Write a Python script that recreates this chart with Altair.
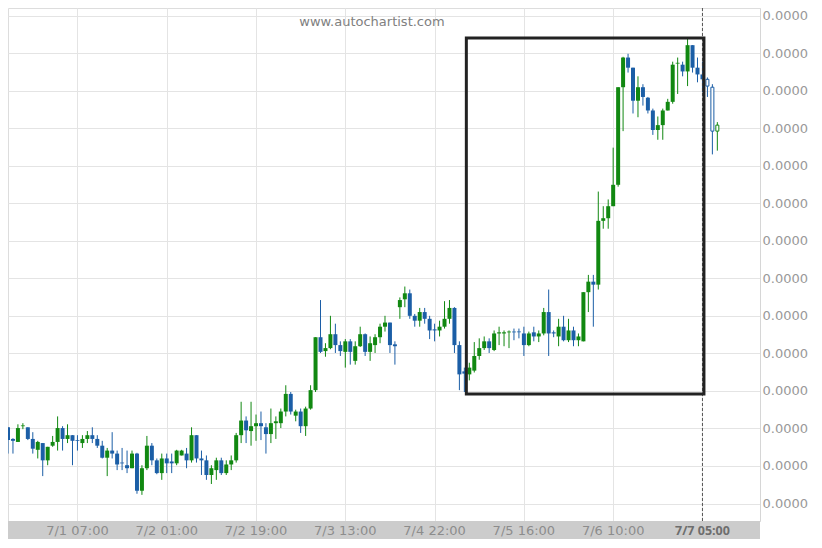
import altair as alt
import pandas as pd

# price unit per grid step (labels all round to 0.0000)
SCALE = 1e-6

opens = [3.03, 2.72, 2.64, 3.06, 3.03, 2.72, 2.43, 2.61, 2.15, 2.54,
         2.64, 3.01, 2.72, 2.82, 2.69, 2.61, 2.72, 2.82, 2.72, 2.54,
         2.22, 2.41, 2.33, 2.09, 2.02, 1.94, 2.33, 1.34, 1.94, 2.54,
         2.15, 1.81, 2.20, 2.12, 2.07, 2.28, 2.33, 2.15, 2.82, 2.20,
         2.15, 1.76, 1.89, 2.15, 1.81, 2.04, 2.15, 2.82, 3.21, 2.93,
         3.06, 3.14, 3.03, 2.85, 3.14, 3.14, 3.45, 3.92, 3.34, 3.45,
         3.06, 3.53, 4.02, 5.43, 5.06, 5.14, 5.51, 5.22, 5.04, 5.32,
         4.80, 5.19, 5.51, 5.04, 5.22, 5.43, 5.71, 5.82, 5.24, 6.23,
         6.44, 6.60, 6.00, 5.87, 6.10, 5.92, 5.64, 5.61, 5.71, 5.92,
         6.21, 5.22, 4.52, 4.44, 4.54, 4.93, 5.14, 5.32, 5.09, 5.53,
         5.53, 5.56, 5.58, 5.58, 5.53, 5.22, 5.56, 5.45, 5.53, 6.10,
         5.56, 5.45, 5.71, 5.35, 5.61, 5.35, 5.32, 6.63, 6.91, 6.83,
         8.53, 8.60, 8.92, 9.49, 12.09, 12.88, 12.61, 11.73, 12.09, 11.81,
         11.47, 10.95, 11.08, 11.47, 11.70, 12.72, 12.69, 12.51, 13.21, 12.61,
         12.43, 12.30, 12.09, 10.92]
highs = [3.03, 2.74, 3.11, 3.14, 3.03, 2.90, 2.67, 2.61, 2.51, 2.80,
         3.32, 3.06, 3.11, 2.82, 2.82, 2.82, 2.93, 3.03, 2.82, 2.67,
         2.48, 2.90, 2.41, 2.48, 2.41, 2.41, 2.35, 2.02, 2.80, 2.61,
         2.20, 2.33, 2.33, 2.33, 2.43, 2.43, 2.48, 3.03, 2.82, 2.41,
         2.28, 2.02, 2.22, 2.22, 2.15, 2.28, 2.88, 3.71, 3.32, 3.71,
         3.37, 3.45, 3.14, 3.53, 3.32, 3.53, 4.15, 3.97, 3.50, 3.53,
         3.58, 4.15, 5.43, 6.42, 5.27, 6.00, 5.79, 5.32, 5.38, 5.38,
         5.32, 5.71, 5.53, 5.45, 5.51, 5.79, 6.00, 5.82, 5.32, 6.49,
         6.78, 6.70, 6.05, 6.21, 6.21, 6.00, 5.79, 5.87, 6.39, 6.42,
         6.23, 5.32, 4.62, 4.75, 5.30, 5.40, 5.45, 5.40, 5.61, 5.71,
         5.61, 5.61, 5.66, 5.66, 5.71, 5.58, 5.71, 5.61, 6.21, 6.70,
         5.61, 5.92, 6.00, 5.92, 5.71, 5.53, 6.63, 7.09, 7.09, 9.31,
         8.92, 9.10, 10.48, 12.09, 12.90, 12.98, 12.61, 12.38, 12.17, 11.83,
         11.52, 11.31, 11.52, 11.78, 12.77, 12.88, 12.77, 13.40, 13.21, 12.88,
         12.77, 12.35, 12.17, 11.16]
lows = [2.33, 2.33, 2.64, 2.98, 2.69, 2.33, 2.20, 1.73, 2.02, 2.51,
        2.41, 2.41, 2.61, 2.02, 2.41, 2.48, 2.61, 2.61, 2.48, 2.20,
        1.73, 2.20, 1.89, 1.89, 1.81, 1.94, 1.26, 1.23, 1.89, 2.02,
        1.78, 1.63, 1.81, 1.81, 2.02, 2.28, 1.94, 2.09, 2.09, 1.76,
        1.63, 1.52, 1.63, 1.76, 1.76, 1.89, 2.09, 2.61, 2.61, 2.54,
        2.67, 2.69, 2.33, 2.61, 2.72, 3.01, 3.32, 3.37, 3.19, 2.88,
        2.80, 3.50, 3.97, 5.01, 4.91, 5.11, 5.01, 4.93, 4.62, 4.70,
        4.70, 5.17, 4.93, 4.80, 5.01, 5.27, 5.58, 5.01, 4.70, 5.92,
        6.23, 5.92, 5.71, 5.71, 5.79, 5.38, 5.32, 5.45, 5.66, 5.79,
        5.01, 4.02, 3.97, 4.28, 4.49, 4.83, 5.09, 5.01, 5.06, 5.22,
        5.19, 5.14, 5.35, 5.40, 4.93, 5.19, 5.32, 5.30, 5.48, 4.93,
        5.43, 5.19, 5.32, 5.30, 5.19, 5.19, 5.32, 6.10, 5.71, 6.70,
        8.32, 8.32, 8.92, 9.44, 10.92, 12.48, 11.39, 11.29, 11.60, 11.39,
        10.82, 10.69, 10.69, 11.47, 11.65, 11.91, 12.38, 12.12, 12.48, 12.22,
        11.96, 11.83, 10.30, 10.40]
closes = [2.69, 2.67, 3.01, 3.08, 2.72, 2.46, 2.64, 2.15, 2.51, 2.64,
          3.01, 2.72, 2.82, 2.67, 2.67, 2.72, 2.82, 2.72, 2.54, 2.22,
          2.41, 2.33, 2.04, 2.07, 1.94, 2.33, 1.34, 1.94, 2.54, 2.15,
          1.81, 2.20, 2.07, 2.07, 2.41, 2.41, 2.15, 2.82, 2.20, 2.15,
          1.76, 1.94, 2.15, 1.81, 2.04, 2.15, 2.82, 3.21, 2.95, 3.06,
          3.14, 3.06, 2.85, 3.14, 3.19, 3.45, 3.92, 3.45, 3.45, 3.06,
          3.53, 4.02, 5.43, 5.04, 5.14, 5.51, 5.22, 5.06, 5.32, 5.04,
          5.19, 5.51, 5.04, 5.27, 5.43, 5.71, 5.82, 5.22, 5.19, 6.42,
          6.60, 6.00, 5.87, 6.10, 5.92, 5.61, 5.61, 5.71, 5.92, 6.21,
          5.22, 4.44, 4.46, 4.62, 4.93, 5.14, 5.32, 5.14, 5.53, 5.56,
          5.56, 5.58, 5.56, 5.56, 5.22, 5.53, 5.45, 5.53, 6.10, 5.53,
          5.53, 5.71, 5.35, 5.61, 5.35, 5.45, 6.63, 6.91, 6.83, 8.53,
          8.60, 8.92, 9.49, 12.09, 12.88, 12.61, 11.73, 12.09, 11.83, 11.47,
          10.95, 11.08, 11.47, 11.70, 12.69, 12.74, 12.51, 13.21, 12.61, 12.43,
          12.30, 12.12, 10.92, 11.08]
HOLLOW_FROM = 141  # candles after the pattern end are drawn hollow

tick_idx = [14, 32, 50, 68, 86, 104, 122, 140]
tick_labels = ["7/1 07:00", "7/2 01:00", "7/2 19:00", "7/3 13:00",
               "7/4 22:00", "7/5 16:00", "7/6 10:00", "7/7 05:00"]
y_levels = list(range(1, 15))

box_x = [92.4, 140.3]
box_y = [3.92, 13.40]
pattern_end_idx = 140

GREEN = "#118811"
BLUE = "#1b5ea6"
W, H = 752, 513

n = len(opens)
df = pd.DataFrame({
    "idx": list(range(n)),
    "open": [v * SCALE for v in opens],
    "high": [v * SCALE for v in highs],
    "low": [v * SCALE for v in lows],
    "close": [v * SCALE for v in closes],
})
df["dir"] = ["up" if c >= o else "down" for o, c in zip(opens, closes)]
df["hollow"] = [i >= HOLLOW_FROM for i in range(n)]

xscale = alt.Scale(domain=[0, 151.6], nice=False, zero=False, padding=0)
yscale = alt.Scale(domain=[0.534 * SCALE, 14.2 * SCALE], nice=False, zero=False, padding=0)

xaxis = alt.Axis(values=tick_idx, grid=True, gridColor="#e4e4e4", gridWidth=1,
                 labels=False, ticks=False, domain=False, title=None)
yaxis = alt.Axis(
    orient="right", values=[l * SCALE for l in y_levels], format=".4f",
    grid=True, gridColor="#e4e4e4", gridWidth=1,
    ticks=False, domain=True, domainColor="#d6d6d6",
    labelPadding=2, labelColor="#999999", labelFont="DejaVu Sans",
    labelFontSize=13, labelOverlap=False, labelFlush=False, title=None,
)

cscale = alt.Scale(domain=["up", "down"], range=[GREEN, BLUE])
color = alt.Color("dir:N", scale=cscale, legend=None)
stroke = alt.Stroke("dir:N", scale=cscale, legend=None)

base = alt.Chart(df)
X = alt.X("idx:Q", scale=xscale, axis=xaxis)

wicks = base.mark_rule(strokeWidth=1, clip=True).encode(
    x=X, y=alt.Y("low:Q", scale=yscale, axis=yaxis), y2="high:Q", color=color)

bodies = base.transform_filter("!datum.hollow").mark_bar(size=4, clip=True).encode(
    x=X, y=alt.Y("open:Q", scale=yscale, axis=yaxis), y2="close:Q", color=color)

hollows = base.transform_filter("datum.hollow").mark_bar(
    size=3, fill="white", strokeWidth=1, clip=True).encode(
    x=X, y=alt.Y("open:Q", scale=yscale, axis=yaxis), y2="close:Q", stroke=stroke)

marker = alt.Chart(pd.DataFrame({"idx": [pattern_end_idx]})).mark_rule(
    color="#555555", strokeWidth=1, strokeDash=[3, 2]).encode(
    x=alt.X("idx:Q", scale=xscale, axis=xaxis))

box_df = pd.DataFrame({"x0": [box_x[0]], "x1": [box_x[1]],
                       "y0": [box_y[0] * SCALE], "y1": [box_y[1] * SCALE]})
box = alt.Chart(box_df).mark_rect(
    fill=None, fillOpacity=0, stroke="#222222", strokeWidth=3).encode(
    x=alt.X("x0:Q", scale=xscale, axis=xaxis), x2="x1:Q",
    y=alt.Y("y0:Q", scale=yscale, axis=yaxis), y2="y1:Q")

# gray time-axis band below the plot
band = alt.Chart(pd.DataFrame({"k": [0]})).mark_rect(color="#cccccc", clip=False).encode(
    x=alt.value(0), x2=alt.value(W), y=alt.value(H), y2=alt.value(H + 18))

lab_df = pd.DataFrame({"idx": tick_idx, "label": tick_labels,
                       "last": [i == pattern_end_idx for i in tick_idx]})
xlabels = alt.Chart(lab_df).transform_filter("!datum.last").mark_text(
    font="DejaVu Sans", fontSize=13, color="#8c8c8c", baseline="middle", clip=False
).encode(x=alt.X("idx:Q", scale=xscale, axis=xaxis), y=alt.value(H + 10), text="label:N")
xlabel_last = alt.Chart(lab_df).transform_filter("datum.last").mark_text(
    font="Open Sans", fontSize=12.5, fontWeight="bold", color="#6e6e6e",
    baseline="middle", clip=False
).encode(x=alt.X("idx:Q", scale=xscale, axis=xaxis), y=alt.value(H + 10), text="label:N")

watermark = alt.Chart(pd.DataFrame({"t": ["www.autochartist.com"]})).mark_text(
    font="DejaVu Sans", fontSize=13, color="#808080", align="center", baseline="middle"
).encode(text="t:N", x=alt.value(364), y=alt.value(14))

chart = alt.layer(wicks, bodies, hollows, marker, box, band, xlabels, xlabel_last,
                  watermark).properties(
    width=W, height=H,
    autosize=alt.AutoSizeParams(type="none"),
    padding={"left": 0, "top": 0, "right": 52, "bottom": 22},
).configure_view(stroke="#d9d9d9", strokeWidth=1).configure(background="white")

chart.save("out.html", embed_options={"renderer": "svg", "actions": False})
